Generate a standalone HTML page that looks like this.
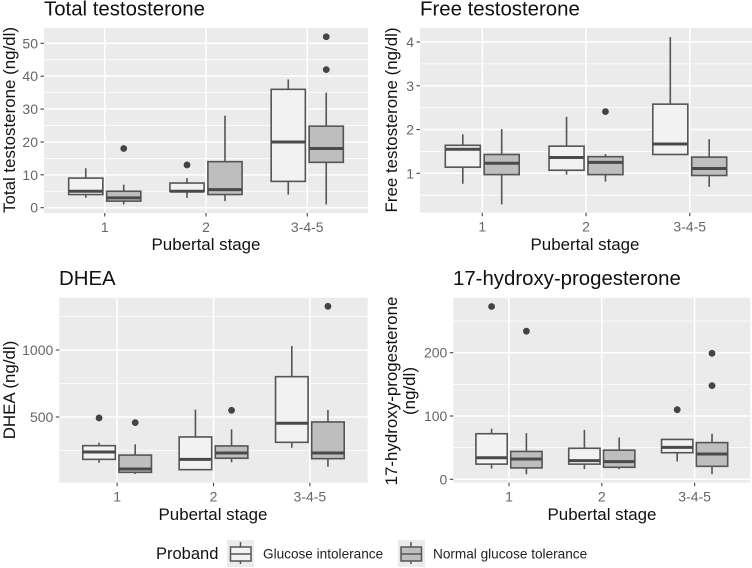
<!DOCTYPE html>
<html lang="en">
<head>
<meta charset="utf-8">
<title>Adrenal hormones by pubertal stage</title>
<style>
html,body{margin:0;padding:0;background:#fff;width:752px;height:568px;overflow:hidden}
svg{display:block;font-family:"Liberation Sans",Arial,sans-serif}
.title{font-size:20.4px;fill:#111}
.axt{font-size:16.9px;fill:#111}
.tick{font-size:14px;fill:#666}
.leg{font-size:13.6px;fill:#222}
</style>
</head>
<body>
<svg id="chart" width="752" height="568" viewBox="0 0 752 568" xmlns="http://www.w3.org/2000/svg">
  <rect x="0" y="0" width="752" height="568" fill="#fff"/>

  <g id="panel-total"></g>
  <text class="title" x="44" y="15.5">Total testosterone</text>
  <text class="axt" x="206" y="250" text-anchor="middle">Pubertal stage</text>
  <text class="axt" text-anchor="middle" transform="translate(15,120) rotate(-90)">Total testosterone (ng/dl)</text>

  <g id="panel-free"></g>
  <text class="title" x="420" y="15.5">Free testosterone</text>
  <text class="axt" x="585" y="250" text-anchor="middle">Pubertal stage</text>
  <text class="axt" text-anchor="middle" transform="translate(397,120) rotate(-90)">Free testosterone (ng/dl)</text>

  <g id="panel-dhea"></g>
  <text class="title" x="59" y="285">DHEA</text>
  <text class="axt" x="213" y="520" text-anchor="middle">Pubertal stage</text>
  <text class="axt" text-anchor="middle" transform="translate(15,390) rotate(-90)">DHEA (ng/dl)</text>

  <g id="panel-ohp"></g>
  <text class="title" x="453" y="285">17-hydroxy-progesterone</text>
  <text class="axt" x="602" y="520" text-anchor="middle">Pubertal stage</text>
  <text class="axt" text-anchor="middle" transform="translate(397,391) rotate(-90)">17-hydroxy-progesterone</text>
  <text class="axt" text-anchor="middle" transform="translate(415,391) rotate(-90)">(ng/dl)</text>

  <g>
    <text x="156" y="559" font-size="16.5" fill="#111">Proband</text>
    <g>
      <rect x="227" y="540" width="27" height="27" fill="#ebebeb"/>
      <line x1="240.5" x2="240.5" y1="542" y2="564" stroke="#555" stroke-width="1.5"/>
      <rect x="230.5" y="547" width="20.5" height="14" fill="#f2f2f2" stroke="#555" stroke-width="1.5"/>
      <line x1="230.5" x2="251" y1="554" y2="554" stroke="#555" stroke-width="1.6"/>
      <text class="leg" x="263" y="558.5">Glucose intolerance</text>
    </g>
    <g>
      <rect x="398" y="540" width="27" height="27" fill="#ebebeb"/>
      <line x1="411" x2="411" y1="542" y2="564" stroke="#555" stroke-width="1.5"/>
      <rect x="401" y="547" width="20.5" height="14" fill="#bebebe" stroke="#555" stroke-width="1.5"/>
      <line x1="401" x2="421.5" y1="554" y2="554" stroke="#555" stroke-width="1.6"/>
      <text class="leg" x="433" y="558.5">Normal glucose tolerance</text>
    </g>
  </g>
</svg>

<script>
// Shared categories
const categories = ['1', '2', '3-4-5'];
const groupNames = ['glucose-intolerance', 'normal-glucose-tolerance'];
const groupFills = ['#f2f2f2', '#bebebe'];

// Each stats array: per stage [low whisker, Q1, median, Q3, high whisker]
const totalTicks = [0, 10, 20, 30, 40, 50];
const totalMinorTicks = [5, 15, 25, 35, 45];
const totalGlucoseIntolerance = [[3, 4, 5, 9, 12], [3, 5, 5, 7.5, 9], [4, 8, 20, 36, 39]];
const totalNormalTolerance = [[1, 2, 3, 5, 7], [2, 4, 5.5, 14, 28], [1, 13.8, 18, 24.8, 35]];
const totalOutliersGI = [[], [13], []];
const totalOutliersNGT = [[18], [], [42, 52]];

const freeTicks = [1, 2, 3, 4];
const freeMinorTicks = [0.5, 1.5, 2.5, 3.5];
const freeGlucoseIntolerance = [[0.76, 1.14, 1.55, 1.64, 1.89], [0.97, 1.07, 1.36, 1.62, 2.29], [1.43, 1.43, 1.67, 2.58, 4.11]];
const freeNormalTolerance = [[0.29, 0.97, 1.23, 1.43, 2.01], [0.81, 0.97, 1.25, 1.38, 1.44], [0.69, 0.95, 1.11, 1.37, 1.78]];
const freeOutliersGI = [[], [], []];
const freeOutliersNGT = [[], [2.41], []];

const dheaTicks = [500, 1000];
const dheaMinorTicks = [250, 750, 1250];
const dheaGlucoseIntolerance = [[159, 184, 239, 286, 308], [102, 107, 184, 351, 555], [271, 311, 453, 801, 1030]];
const dheaNormalTolerance = [[75, 87, 112, 216, 296], [162, 192, 231, 284, 408], [129, 189, 231, 463, 552]];
const dheaOutliersGI = [[493], [], []];
const dheaOutliersNGT = [[458], [550], [1326]];

const ohpTicks = [0, 100, 200];
const ohpMinorTicks = [50, 150, 250];
const ohpGlucoseIntolerance = [[17, 24, 34, 72, 80], [16, 24, 29.5, 49, 78], [28, 42, 50.5, 63, 63]];
const ohpNormalTolerance = [[8, 18, 32, 44, 73], [16, 19, 28, 46, 66], [8, 20.5, 40, 58, 72]];
const ohpOutliersGI = [[273], [], [110]];
const ohpOutliersNGT = [[234], [], [148, 199]];

const SVGNS = 'http://www.w3.org/2000/svg';
function mk(tag, attrs, parent) {
  const el = document.createElementNS(SVGNS, tag);
  for (const k in attrs) el.setAttribute(k, attrs[k]);
  parent.appendChild(el);
  return el;
}

function drawPanel(cfg) {
  const root = document.getElementById(cfg.id);
  const left = cfg.left, right = cfg.right, top = cfg.top, bottom = cfg.bottom;
  const step = (right - left) / 3.2;
  const xCat = i => left + (i + 0.6) * step;
  const xDodge = (i, g) => xCat(i) + (g === 0 ? -0.1875 : 0.1875) * step;
  const boxW = 0.3375 * step;
  const yPx = v => cfg.y0 + (v - cfg.v0) * (cfg.y1 - cfg.y0) / (cfg.v1 - cfg.v0);

  const bg = mk('rect', {x: left, y: top, width: right - left, height: bottom - top, fill: '#ebebeb'}, root);
  
  

  cfg.minor.forEach(v => {
    const l = mk('line', {x1: left, x2: right, y1: yPx(v), y2: yPx(v), stroke: '#fff', 'stroke-width': 0.8}, root);
    
    
  });
  cfg.ticks.forEach(v => {
    const y = yPx(v);
    const l = mk('line', {x1: left, x2: right, y1: y, y2: y, stroke: '#fff', 'stroke-width': 1.5}, root);
    
    
    const t = mk('line', {x1: left - 3.5, x2: left, y1: y, y2: y, stroke: '#444', 'stroke-width': 1.1}, root);
    
    
    const lab = mk('text', {x: left - 6, y: y + 5, 'text-anchor': 'end', class: 'tick'}, root);
    
    
    lab.textContent = String(v);
  });
  categories.forEach((c, i) => {
    const x = xCat(i);
    const l = mk('line', {x1: x, x2: x, y1: top, y2: bottom, stroke: '#fff', 'stroke-width': 1.5}, root);
    
    
    const t = mk('line', {x1: x, x2: x, y1: bottom, y2: bottom + 3.5, stroke: '#444', 'stroke-width': 1.1}, root);
    
    
    const lab = mk('text', {x: x, y: bottom + 19, 'text-anchor': 'middle', class: 'tick'}, root);
    
    
    lab.textContent = c;
  });

  cfg.series.forEach((stats, g) => {
    stats.forEach((s, i) => {
      const x = xDodge(i, g);
      const fiveGroup = mk('g', {}, root);
      
      
      const w1 = mk('line', {x1: x, x2: x, y1: yPx(s[0]), y2: yPx(s[1]), stroke: '#555', 'stroke-width': 1.6}, fiveGroup);
      
      
      const w2 = mk('line', {x1: x, x2: x, y1: yPx(s[3]), y2: yPx(s[4]), stroke: '#555', 'stroke-width': 1.6}, fiveGroup);
      
      
      const b = mk('rect', {x: x - boxW / 2, y: yPx(s[3]), width: boxW, height: yPx(s[1]) - yPx(s[3]), fill: groupFills[g], stroke: '#555', 'stroke-width': 1.6}, fiveGroup);
      
      
      const m = mk('line', {x1: x - boxW / 2, x2: x + boxW / 2, y1: yPx(s[2]), y2: yPx(s[2]), stroke: '#4a4a4a', 'stroke-width': 3}, fiveGroup);
      
      
      cfg.outliers[g][i].forEach(v => {
        const o = mk('circle', {cx: x, cy: yPx(v), r: 3.4, fill: '#444'}, fiveGroup);
        
        
      });
    });
  });
}

drawPanel({id: 'panel-total', left: 44, right: 368, top: 28, bottom: 213,
  v0: 0, y0: 207.7, v1: 50, y1: 43.3, ticks: totalTicks, minor: totalMinorTicks,
  series: [totalGlucoseIntolerance, totalNormalTolerance], outliers: [totalOutliersGI, totalOutliersNGT]});
drawPanel({id: 'panel-free', left: 420, right: 752, top: 28, bottom: 212.7,
  v0: 1, y0: 173.3, v1: 4, y1: 42, ticks: freeTicks, minor: freeMinorTicks,
  series: [freeGlucoseIntolerance, freeNormalTolerance], outliers: [freeOutliersGI, freeOutliersNGT]});
drawPanel({id: 'panel-dhea', left: 59.3, right: 367.7, top: 297.7, bottom: 482.7,
  v0: 500, y0: 417, v1: 1000, y1: 350, ticks: dheaTicks, minor: dheaMinorTicks,
  series: [dheaGlucoseIntolerance, dheaNormalTolerance], outliers: [dheaOutliersGI, dheaOutliersNGT]});
drawPanel({id: 'panel-ohp', left: 453.3, right: 750.3, top: 297.7, bottom: 482.7,
  v0: 0, y0: 479.3, v1: 200, y1: 352.7, ticks: ohpTicks, minor: ohpMinorTicks,
  series: [ohpGlucoseIntolerance, ohpNormalTolerance], outliers: [ohpOutliersGI, ohpOutliersNGT]});
</script>
</body>
</html>
